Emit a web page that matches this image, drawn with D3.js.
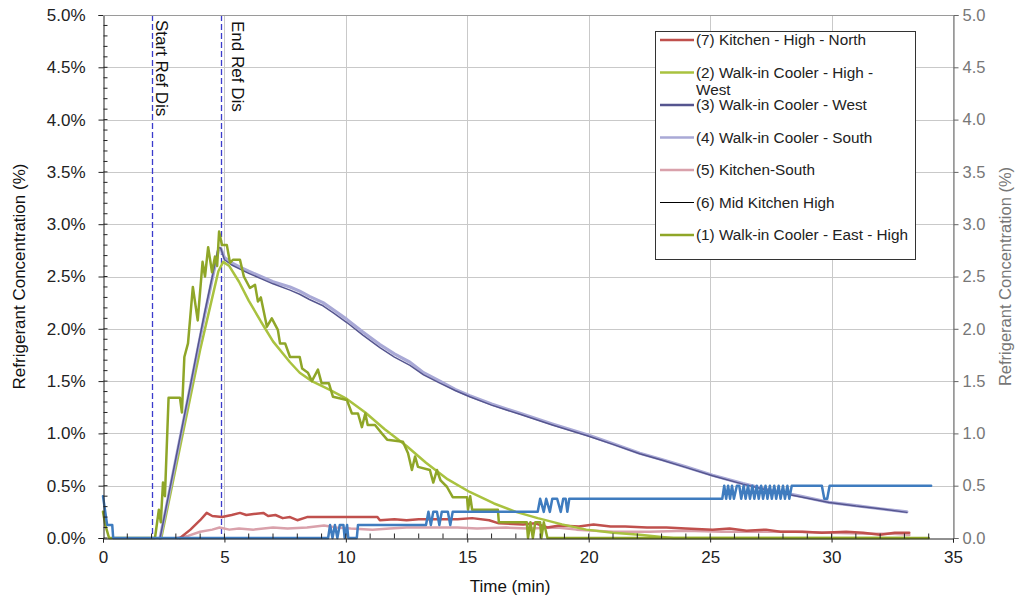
<!DOCTYPE html>
<html>
<head>
<meta charset="utf-8">
<script src="https://cdn.jsdelivr.net/npm/d3@7"></script>
<style>
  html, body { margin: 0; padding: 0; background: #fff; }
  svg { display: block; font-family: "Liberation Sans", Arial, sans-serif; }
</style>
</head>
<body>
<svg id="chart" width="1018" height="602"></svg>
<script>
// ---- data: [time (min), concentration (%)] ----
const kitchenHighNorth = [[3.17,0],[3.6,0.08],[4.0,0.17],[4.27,0.24],[4.5,0.21],[4.9,0.2],[5.3,0.22],[5.64,0.24],[5.9,0.22],[6.2,0.23],[6.6,0.24],[6.8,0.21],[7.1,0.22],[7.4,0.19],[7.7,0.2],[8.0,0.17],[8.4,0.2],[11.3,0.2],[11.4,0.17],[12.0,0.18],[12.5,0.17],[13.0,0.18],[13.8,0.18],[14.6,0.18],[15.2,0.19],[15.9,0.17],[16.3,0.14],[17.3,0.13],[17.8,0.14],[18.3,0.1],[18.8,0.12],[19.6,0.11],[20.2,0.13],[20.9,0.11],[21.5,0.11],[22.4,0.1],[23.2,0.1],[24.0,0.09],[25.1,0.08],[25.8,0.09],[26.5,0.07],[27.3,0.08],[27.9,0.06],[28.8,0.06],[29.6,0.05],[30.6,0.06],[31.3,0.05],[32.0,0.03],[32.6,0.05],[33.2,0.05]];

const coolerHighWest = [[2.4,0],[2.8,0.45],[3.2,0.9],[3.6,1.35],[4.0,1.8],[4.4,2.2],[4.75,2.55],[4.95,2.64],[5.2,2.6],[5.6,2.45],[6.0,2.27],[6.5,2.07],[7.0,1.88],[7.7,1.68],[8.1,1.58],[8.6,1.5],[9.3,1.42],[10.04,1.33],[10.8,1.2],[11.6,1.04],[12.5,0.88],[13.3,0.72],[14.2,0.56],[15.1,0.44],[16.1,0.33],[17.0,0.25],[17.9,0.19],[18.9,0.13],[19.9,0.08],[21.0,0.05],[22.1,0.03],[23.0,0.01],[23.5,0],[33.2,0]];

const coolerWest = [[2.35,0],[2.7,0.41],[3.0,0.76],[3.3,1.11],[3.6,1.46],[3.9,1.82],[4.2,2.17],[4.5,2.5],[4.75,2.78],[4.85,2.77],[5.0,2.66],[5.3,2.61],[5.64,2.57],[6.0,2.53],[6.5,2.48],[7.0,2.43],[7.7,2.37],[8.1,2.33],[8.5,2.28],[9.06,2.22],[9.5,2.15],[10.04,2.06],[10.7,1.94],[11.4,1.82],[12.0,1.73],[12.64,1.65],[13.2,1.56],[13.87,1.48],[14.5,1.41],[15.1,1.35],[16.0,1.27],[17.2,1.18],[18.5,1.08],[19.97,0.975],[21.0,0.895],[22.1,0.805],[23.0,0.745],[24.0,0.675],[25.1,0.595],[26.35,0.515],[27.5,0.45],[28.7,0.395],[29.9,0.34],[31.0,0.305],[32.0,0.28],[33.1,0.245]];

const coolerSouth = [[2.35,0],[2.7,0.4],[3.0,0.75],[3.3,1.1],[3.6,1.45],[3.9,1.8],[4.2,2.15],[4.5,2.48],[4.75,2.75],[4.85,2.77],[5.0,2.68],[5.3,2.63],[5.64,2.59],[6.0,2.55],[6.5,2.5],[7.0,2.45],[7.7,2.4],[8.1,2.36],[8.5,2.31],[9.06,2.25],[9.5,2.18],[10.04,2.09],[10.7,1.97],[11.4,1.85],[12.0,1.76],[12.64,1.68],[13.2,1.58],[13.87,1.5],[14.5,1.42],[15.1,1.36],[16.0,1.28],[17.2,1.19],[18.5,1.09],[19.97,0.985],[21.0,0.9],[22.1,0.81],[23.0,0.75],[24.0,0.68],[25.1,0.6],[26.35,0.52],[27.5,0.455],[28.7,0.4],[29.9,0.34],[31.0,0.31],[32.0,0.28],[33.1,0.25]];

const kitchenSouth = [[3.05,0],[3.5,0.02],[4.0,0.06],[4.5,0.08],[4.8,0.1],[5.2,0.08],[5.6,0.09],[6.2,0.08],[7.0,0.1],[7.6,0.09],[8.4,0.1],[9.1,0.12],[9.6,0.1],[10.2,0.09],[11.1,0.08],[11.8,0.09],[12.5,0.1],[13.2,0.1],[14.0,0.1],[14.6,0.1],[15.4,0.09],[16.6,0.1],[17.5,0.09],[18.7,0.1],[19.5,0.08],[21.0,0.06],[22.5,0.06],[24.0,0.07],[25.5,0.06],[27.0,0.06],[28.5,0.06],[30.0,0.05],[31.5,0.04],[32.5,0.04],[33.2,0.03]];

const coolerEastHigh = [[0,0.25],[0.1,0.12],[0.25,0],[2.14,0],[2.3,0.27],[2.38,0.15],[2.47,0.53],[2.55,0.4],[2.7,1.34],[3.17,1.34],[3.25,1.2],[3.35,1.73],[3.5,1.86],[3.7,2.4],[3.9,2.08],[4.1,2.64],[4.2,2.5],[4.33,2.78],[4.49,2.54],[4.61,2.69],[4.7,2.6],[4.78,2.93],[4.9,2.8],[5.1,2.8],[5.23,2.63],[5.35,2.66],[5.64,2.66],[5.8,2.5],[6.05,2.39],[6.26,2.42],[6.38,2.26],[6.5,2.3],[6.75,2.02],[6.95,2.1],[7.2,1.99],[7.29,1.86],[7.5,1.86],[7.7,1.73],[8.1,1.73],[8.2,1.62],[8.44,1.58],[8.6,1.5],[8.85,1.61],[9.0,1.48],[9.3,1.48],[9.47,1.35],[10.04,1.32],[10.25,1.19],[10.5,1.19],[10.66,1.06],[10.8,1.19],[10.9,1.08],[11.2,1.08],[11.48,1.0],[11.7,0.94],[12.35,0.92],[12.56,0.81],[12.72,0.65],[12.85,0.78],[12.97,0.68],[13.46,0.65],[13.6,0.53],[13.75,0.65],[13.9,0.55],[14.16,0.49],[14.4,0.39],[14.99,0.39],[15.03,0.27],[15.12,0.4],[15.2,0.27],[16.26,0.27],[16.3,0.15],[17.45,0.15],[17.5,0],[17.6,0.15],[17.7,0],[17.8,0.15],[18.0,0.15],[18.05,0],[18.15,0.15],[18.3,0],[34.0,0]];

// stepped sensor reading (0.125 % resolution)
const kitchenLowSensor = [[0,0.4],[0.17,0.125],[0.38,0.125],[0.42,0],[9.27,0],[9.35,0.125],[9.45,0],[9.55,0.125],[9.65,0],[9.75,0.125],[9.9,0.125],[9.95,0],[10.05,0.125],[10.1,0],[10.45,0],[10.5,0.125],[13.3,0.125],[13.4,0.25],[13.5,0.125],[13.6,0.25],[13.75,0.25],[13.85,0.125],[13.95,0.25],[14.2,0.25],[14.3,0.125],[14.4,0.25],[14.6,0.25],[17.9,0.25],[18.0,0.375],[18.15,0.25],[18.25,0.375],[18.4,0.25],[18.5,0.375],[18.7,0.375],[18.85,0.25],[18.95,0.375],[19.05,0.375],[19.12,0.25],[19.2,0.375],[25.5,0.375],[25.58,0.5],[25.66,0.375],[25.74,0.5],[25.82,0.375],[25.9,0.5],[25.98,0.375],[26.1,0.5],[26.2,0.5],[26.28,0.375],[26.38,0.5],[26.46,0.375],[26.56,0.5],[26.64,0.375],[26.74,0.5],[26.82,0.375],[26.92,0.5],[27.0,0.375],[27.1,0.5],[27.18,0.375],[27.28,0.5],[27.36,0.375],[27.46,0.5],[27.54,0.375],[27.64,0.5],[27.72,0.375],[27.82,0.5],[27.9,0.375],[28.0,0.5],[28.08,0.375],[28.18,0.5],[28.26,0.375],[28.36,0.5],[29.6,0.5],[29.7,0.375],[29.82,0.375],[29.92,0.5],[34.1,0.5]];

const startRelease = 2.0;
const endRelease = 4.86;

const xTicks = [0, 5, 10, 15, 20, 25, 30, 35];
const yTicks = [0, 0.5, 1.0, 1.5, 2.0, 2.5, 3.0, 3.5, 4.0, 4.5, 5.0];

// series drawn back to front
const series = [
  { key: "pink",  data: kitchenSouth,     color: "#d9a1ab", width: 2.5 },
  { key: "red",   data: kitchenHighNorth, color: "#c0504d", width: 2.5 },
  { key: "lgrn",  data: coolerHighWest,   color: "#a9c23f", width: 2.5 },
  { key: "lav",   data: coolerSouth,      color: "#a9a9d6", width: 3.2 },
  { key: "dpur",  data: coolerWest,       color: "#55558f", width: 1.5 },
  { key: "olive", data: coolerEastHigh,   color: "#8fa628", width: 2.5 },
  { key: "blue",  data: kitchenLowSensor, color: "#3f7cbf", width: 2.5 }
];

const legendItems = [
  { label: ["(7) Kitchen - High - North"], color: "#c0504d", width: 2.5 },
  { label: ["(2) Walk-in Cooler - High -", "West"], color: "#a9c23f", width: 2.5 },
  { label: ["(3) Walk-in Cooler - West"], color: "#55558f", width: 2.5 },
  { label: ["(4) Walk-in Cooler - South"], color: "#a9a9d6", width: 2.5 },
  { label: ["(5) Kitchen-South"], color: "#d9a1ab", width: 2.5 },
  { label: ["(6) Mid Kitchen High"], color: "#000000", width: 1 },
  { label: ["(1) Walk-in Cooler - East - High"], color: "#8fa628", width: 2.5 }
];

// ---- layout ----
const svg = d3.select("#chart");
const m = { left: 103, right: 953, top: 15, bottom: 538 };
const FONT = "Liberation Sans, Arial, sans-serif";

const x = d3.scaleLinear().domain([0, 35]).range([m.left, m.right]);
const y = d3.scaleLinear().domain([0, 5]).range([m.bottom, m.top]);

// grid
const grid = svg.append("g").attr("stroke", "#c9c9c9").attr("stroke-width", 1);
grid.selectAll("line.v").data(xTicks.slice(1)).join("line")
  .attr("x1", d => Math.round(x(d)) + 0.5).attr("x2", d => Math.round(x(d)) + 0.5)
  .attr("y1", m.top).attr("y2", m.bottom);
grid.selectAll("line.h").data(yTicks.slice(1)).join("line")
  .attr("x1", m.left).attr("x2", m.right)
  .attr("y1", d => Math.round(y(d)) + 0.5).attr("y2", d => Math.round(y(d)) + 0.5);

// release markers
[startRelease, endRelease].forEach(t => {
  const px = Math.round(x(t)) + 0.5;
  svg.append("line")
    .attr("x1", px).attr("x2", px).attr("y1", m.top).attr("y2", m.bottom)
    .attr("stroke", "#3b3bcc").attr("stroke-width", 1.3).attr("stroke-dasharray", "6,3");
});
svg.append("text").attr("transform", `translate(${x(startRelease) + 4},20) rotate(90)`)
  .attr("font-size", 17).attr("fill", "#111").text("Start Ref Dis");
svg.append("text").attr("transform", `translate(${x(endRelease) + 11},21) rotate(90)`)
  .attr("font-size", 17).attr("fill", "#111").text("End Ref Dis");

// lines
const line = d3.line().x(d => x(d[0])).y(d => y(d[1])).curve(d3.curveLinear);
svg.append("g").selectAll("path").data(series).join("path")
  .attr("d", d => line(d.data))
  .attr("fill", "none")
  .attr("stroke", d => d.color)
  .attr("stroke-width", d => d.width)
  .attr("stroke-linejoin", "round")
  .attr("stroke-linecap", "round");

// left axis
const yLeft = svg.append("g").attr("transform", `translate(${m.left + 0.5},0)`)
  .call(d3.axisLeft(y).tickValues(yTicks).tickFormat(d => d.toFixed(1) + "%").tickSize(5).tickPadding(13));
yLeft.select(".domain").attr("stroke", "#222");
yLeft.selectAll(".tick line").attr("stroke", "#222");
yLeft.selectAll("text").attr("font-size", 17).attr("fill", "#222").attr("font-family", FONT);
// minor ticks inside
yLeft.append("g").selectAll("line").data(d3.range(0, 50).map(i => i / 10)).join("line")
  .attr("x1", 0).attr("x2", 4).attr("y1", d => y(d)).attr("y2", d => y(d)).attr("stroke", "#222");

// right axis
const yRight = svg.append("g").attr("transform", `translate(${m.right + 0.5},0)`)
  .call(d3.axisRight(y).tickValues(yTicks).tickFormat(d3.format(".1f")).tickSize(5).tickPadding(4));
yRight.select(".domain").attr("stroke", "#666");
yRight.selectAll(".tick line").attr("stroke", "#666");
yRight.selectAll("text").attr("font-size", 16.5).attr("fill", "#777").attr("font-family", FONT);

// top frame
svg.append("line").attr("x1", m.left).attr("x2", m.right).attr("y1", m.top + 0.5).attr("y2", m.top + 0.5)
  .attr("stroke", "#9a9a9a");

// bottom axis
const xAxis = svg.append("g").attr("transform", `translate(0,${m.bottom + 0.5})`)
  .call(d3.axisBottom(x).tickValues(xTicks).tickFormat(d3.format("d")).tickSize(4).tickPadding(8));
xAxis.select(".domain").attr("stroke", "#222");
xAxis.selectAll(".tick line").attr("stroke", "#222");
xAxis.selectAll("text").attr("font-size", 17).attr("fill", "#222").attr("font-family", FONT);
xAxis.append("g").selectAll("line").data(d3.range(1, 35)).join("line")
  .attr("x1", d => x(d)).attr("x2", d => x(d)).attr("y1", 0).attr("y2", -5).attr("stroke", "#222");

// axis titles
svg.append("text").attr("x", 510).attr("y", 592).attr("text-anchor", "middle")
  .attr("font-size", 17).attr("fill", "#111").text("Time (min)");
svg.append("text").attr("transform", `translate(25,${(m.top + m.bottom) / 2}) rotate(-90)`)
  .attr("text-anchor", "middle").attr("font-size", 17).attr("fill", "#111")
  .text("Refrigerant Concentration (%)");
svg.append("text").attr("transform", `translate(1011,${(m.top + m.bottom) / 2}) rotate(-90)`)
  .attr("text-anchor", "middle").attr("font-size", 16.5).attr("fill", "#777")
  .text("Refrigerant Concentration (%)");

// legend
const lg = svg.append("g");
lg.append("rect").attr("x", 655.5).attr("y", 31.5).attr("width", 260).attr("height", 228)
  .attr("fill", "#fff").attr("stroke", "#333").attr("stroke-width", 1);
const rowY = d3.scaleLinear().domain([0, 6]).range([40, 235]);
const rows = lg.selectAll("g.row").data(legendItems).join("g")
  .attr("transform", (d, i) => `translate(0,${rowY(i)})`);
rows.append("line").attr("x1", 660).attr("x2", 694).attr("y1", 0).attr("y2", 0)
  .attr("stroke", d => d.color).attr("stroke-width", d => d.width);
rows.each(function(d) {
  const t = d3.select(this).append("text").attr("x", 696).attr("y", 5)
    .attr("font-size", 15.3).attr("fill", "#222");
  d.label.forEach((s, j) => t.append("tspan").attr("x", 696).attr("dy", j ? 17 : 0).text(s));
});
</script>
</body>
</html>
